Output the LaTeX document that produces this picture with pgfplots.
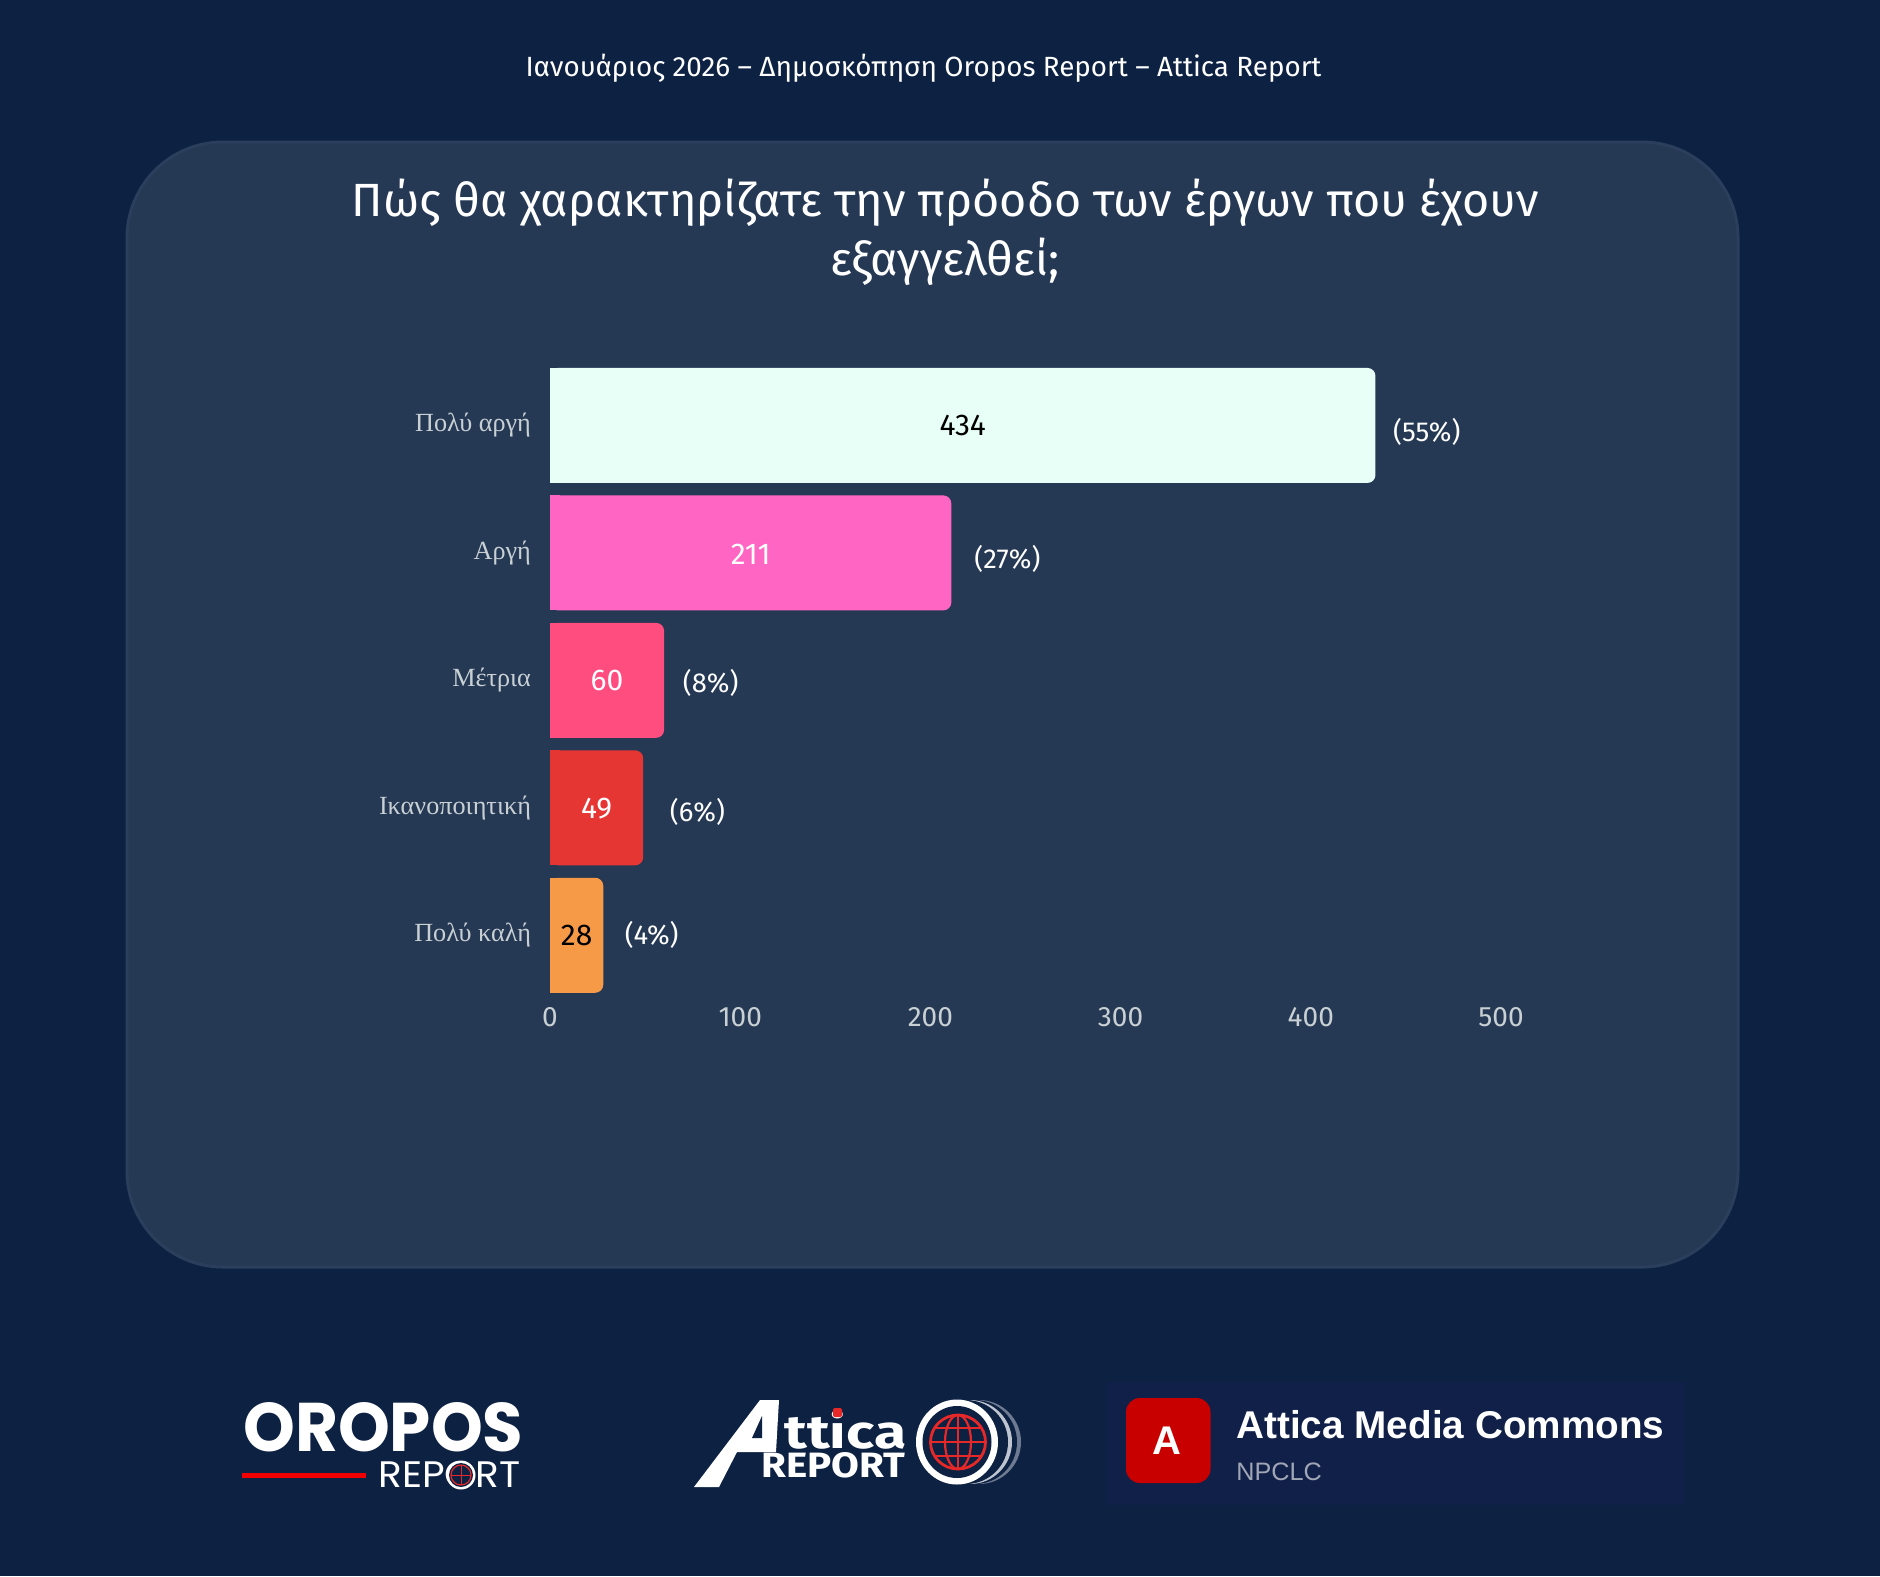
\documentclass[border=0pt]{standalone}
\usepackage{fontspec}
\usepackage{graphicx}
\usepackage{pgfplots}
\pgfplotsset{compat=1.18}
\setmainfont{Fira Sans}
\newfontfamily\serifgr{Liberation Serif}
\newfontfamily\popp{Poppins}
\newfontfamily\uifont{Liberation Sans}
\definecolor{bg}{RGB}{13,33,66}
\definecolor{panel}{RGB}{37,56,84}
\definecolor{panelb}{RGB}{43,62,91}
\definecolor{tickc}{RGB}{200,208,212}
\definecolor{b1}{RGB}{231,255,246}
\definecolor{b2}{RGB}{255,102,196}
\definecolor{b3}{RGB}{255,77,128}
\definecolor{b4}{RGB}{230,54,51}
\definecolor{b5}{RGB}{247,154,71}
\definecolor{amc}{RGB}{17,32,72}
\definecolor{amcred}{RGB}{200,0,0}
\definecolor{logored}{RGB}{230,40,40}
\definecolor{ringa}{RGB}{190,197,208}
\definecolor{ringb}{RGB}{110,122,145}
\begin{document}
\begin{tikzpicture}[x=0.5pt,y=-0.5pt]
\fill[bg] (0,0) rectangle (1880,1576);
\draw[panelb,fill=panel,line width=1.5pt,rounded corners=48pt] (127,142) rectangle (1738,1267);
\node[text=white,font=\fontsize{13.9}{16}\selectfont] at (923.5,68) {Ιανουάριος 2026 – Δημοσκόπηση Oropos Report – Attica Report};
\node[text=white,font=\fontsize{23.3}{27}\selectfont] at (945,203) {Πώς θα χαρακτηρίζατε την πρόοδο των έργων που έχουν};
\node[text=white,font=\fontsize{23.3}{27}\selectfont] at (945,262) {εξαγγελθεί;};
\begin{axis}[
  at={(275pt,-499.5pt)},anchor=south west,
  scale only axis,width=475.5pt,height=318.65pt,
  xmin=0,xmax=500,ymin=-0.5,ymax=4.5,y dir=reverse,
  axis line style={draw=none},major tick length=0pt,
  xtick={0,100,200,300,400,500},
  ytick={0,1,2,3,4},
  yticklabels={Πολύ αργή,Αργή,Μέτρια,Ικανοποιητική,Πολύ καλή},
  /pgf/number format/assume math mode=true,
  xticklabel style={text=tickc,font=\fontsize{14}{16}\selectfont,yshift=-0.5pt},
  yticklabel style={text=tickc,font=\serifgr\fontsize{13.1}{15}\selectfont,anchor=east,xshift=-6pt,yshift=0pt},
  clip=false,
]
\addplot[xbar,bar shift=0pt,bar width=57.5pt,fill=b1,draw=none,rounded corners=4pt] coordinates {(434,0)};
\addplot[xbar,bar shift=0pt,bar width=57.5pt,fill=b2,draw=none,rounded corners=4pt] coordinates {(211,1)};
\addplot[xbar,bar shift=0pt,bar width=57.5pt,fill=b3,draw=none,rounded corners=4pt] coordinates {(60,2)};
\addplot[xbar,bar shift=0pt,bar width=57.5pt,fill=b4,draw=none,rounded corners=4pt] coordinates {(49,3)};
\addplot[xbar,bar shift=0pt,bar width=57.5pt,fill=b5,draw=none,rounded corners=4pt] coordinates {(28,4)};
% square off the left ends of the rounded bars
\fill[b1] (axis cs:0,-0.4511) rectangle (axis cs:5,0.4511);
\fill[b2] (axis cs:0,0.5489) rectangle (axis cs:5,1.4511);
\fill[b3] (axis cs:0,1.5489) rectangle (axis cs:5,2.4511);
\fill[b4] (axis cs:0,2.5489) rectangle (axis cs:5,3.4511);
\fill[b5] (axis cs:0,3.5489) rectangle (axis cs:5,4.4511);
\tikzset{val/.style={font=\fontsize{15}{17}\selectfont},pct/.style={text=white,font=\fontsize{13.7}{16}\selectfont}}
\node[val,text=black] at (axis cs:217,0) {434};
\node[val,text=white] at (axis cs:105.5,1.01) {211};
\node[val,text=white] at (axis cs:30,2) {60};
\node[val,text=white] at (axis cs:24.5,3.01) {49};
\node[val,text=black] at (axis cs:14,4) {28};
\node[pct] at (axis cs:461,0.05) {(55\%)};
\node[pct] at (axis cs:240.5,1.05) {(27\%)};
\node[pct] at (axis cs:84.5,2.02) {(8\%)};
\node[pct] at (axis cs:77.5,3.03) {(6\%)};
\node[pct] at (axis cs:53.5,4) {(4\%)};
\end{axis}
% Oropos Report logo
\node[inner sep=0,anchor=west,text=white] at (243,1427.5) {\resizebox{140pt}{24.5pt}{\popp\bfseries OROPOS}};
\fill[red!95!black] (242,1473) rectangle (366,1478);
\node[inner sep=0,anchor=west,text=white] at (378,1475) {\resizebox{71pt}{13pt}{\popp REPORT}};
\fill[white] (461,1475) ellipse (14.5 and 14.5);
\fill[bg] (461,1475) ellipse (12 and 12);
\draw[logored,line width=.6pt] (461,1475) ellipse (10 and 10);
\draw[logored,line width=.5pt] (451,1475)--(471,1475) (461,1465)--(461,1485);
% Attica Report logo
\fill[ringb] (979,1442) ellipse (42 and 42);
\fill[bg] (975,1442) ellipse (42 and 42);
\fill[ringa] (970,1442) ellipse (42 and 42);
\fill[bg] (966,1442) ellipse (42 and 42);
\fill[white] (957,1442) ellipse (41 and 42.5);
\fill[bg] (957,1442) ellipse (34.5 and 36);
\draw[logored,line width=1.4pt] (958,1442) ellipse (27.5 and 27);
\draw[logored,line width=1.1pt] (958,1442) ellipse (13 and 27);
\draw[logored,line width=1.1pt] (958,1415)--(958,1469) (930.5,1442)--(985.5,1442) (935,1428)--(981,1428) (935,1456)--(981,1456);
\fill[white] (694,1487)--(719,1487)--(737,1452)--(776,1452)--(779,1400)--(760,1400)--cycle;
\fill[bg] (752,1438)--(762,1438)--(762,1416)--cycle;
\node[inner sep=0,anchor=south west,text=white] at (784,1450) {\resizebox{61pt}{19pt}{\bfseries ttica}};
\fill[logored,rounded corners=1pt] (833,1408) rectangle (842,1417);
\node[inner sep=0,anchor=south east,text=white] at (906,1478) {\resizebox{72pt}{12.5pt}{\bfseries REPORT}};
% Attica Media Commons badge
\fill[amc] (1106.5,1382) rectangle (1685,1505);
\fill[amcred,rounded corners=7pt] (1126,1398) rectangle (1210.5,1483);
\node[text=white,font=\uifont\bfseries\fontsize{20}{24}\selectfont] at (1167,1441) {A};
\node[inner sep=0,anchor=base west,text=white,font=\uifont\bfseries\fontsize{19.35}{24}\selectfont] at (1236,1438) {Attica Media Commons};
\node[inner sep=0,anchor=base west,text=white!60!amc,font=\uifont\fontsize{12.6}{16}\selectfont] at (1236,1480) {NPCLC};
\end{tikzpicture}
\end{document}
